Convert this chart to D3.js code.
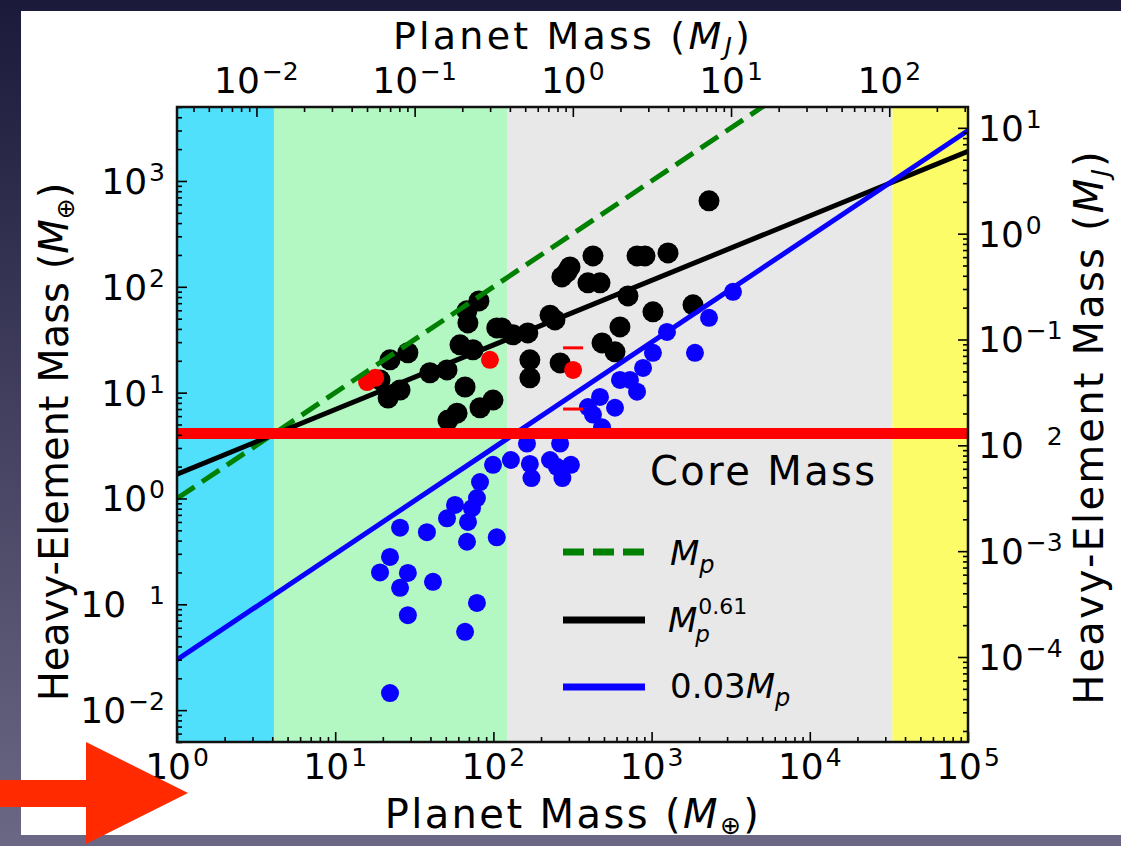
<!DOCTYPE html>
<html>
<head>
<meta charset="utf-8">
<script src="https://cdn.jsdelivr.net/npm/d3@7"></script>
<style>
html, body { margin: 0; padding: 0; }
body { width: 1121px; height: 846px; overflow: hidden; }
svg text { font-family: "DejaVu Sans", sans-serif; fill: #000; }
</style>
</head>
<body>
<svg id="fig" width="1121" height="846"></svg>
<script>
// 1 Jupiter mass in Earth masses (twin axes)
var EARTH_PER_JUP = 317.8;

// shaded mass regimes (Earth masses)
var regionEdges = [1, 4.1, 122, 33300, 1e5];
var regionColors = ["#50e0fc", "#b3f7c3", "#e8e8e8", "#fcfc68"];

// black points: planet mass, heavy-element mass (Earth masses)
var blackMass = [2306, 305, 271, 426, 396, 472, 809, 908, 1270, 709, 228, 245, 165, 133, 113,
  1020, 1827, 631, 486, 587, 170, 170, 264, 81, 68, 69, 105, 292, 61.5, 74.3, 22.2, 28.8,
  39.7, 50.9, 66.2, 21.6, 25.7, 82.3, 99.4, 51.6, 58.9, 19.2];
var blackZ = [649, 154, 124, 196, 109, 109, 196, 196, 209, 82, 54, 48.7, 36.7, 35.2, 40.9,
  58, 67.5, 41.8, 29.5, 24.3, 20.4, 13.8, 19.1, 73.6, 59.3, 45.6, 40.9, 138, 28.3, 25.4, 20.4, 23.8,
  15.4, 16.4, 11.3, 8.9, 10.6, 7.2, 8.5, 5.5, 6.4, 13.2];

// blue points
var blueMass = [3270, 2306, 1880, 1251, 1020, 883, 631, 730, 809, 472, 396, 426, 587, 486,
  163, 264, 129, 170, 228, 252, 309, 174, 273, 99.4, 82.3, 78.7, 57.2, 50.9, 69.1, 73.2,
  68.1, 105, 25.7, 38.0, 22.2, 19.2, 28.8, 25.7, 41.5, 78.7, 28.8, 66.2, 22.2];
var blueZ = [89.6, 50.9, 23.8, 37.5, 23.8, 17.1, 13.2, 13.2, 10.2, 9.1, 7.3, 6.2, 7.2, 4.7,
  3.3, 3.3, 2.31, 2.12, 2.31, 1.99, 2.08, 1.56, 1.56, 2.08, 1.43, 1.01, 0.87, 0.65, 0.60, 0.81,
  0.39, 0.43, 0.53, 0.48, 0.28, 0.20, 0.198, 0.143, 0.163, 0.103, 0.079, 0.055, 0.0145];

// red points with error caps
var redMass = [15.9, 17.9, 95.1, 319];
var redZ = [12.6, 13.8, 20.4, 16.4];
var redLow = [null, null, null, 7.0];
var redHigh = [null, null, null, 26.5];

// relations
var fitCoef = 1.7, fitExp = 0.61;
var coreFrac = 0.03;
var coreMass = 4.1;

// tick labels (exponents); the reference lost the minus on two of them
var bottomExp = ["0", "1", "2", "3", "4", "5"];
var topExp = ["−2", "−1", "0", "1", "2"];
var leftExp = ["−2", "−1", "0", "1", "2", "3"];
var leftLostMinus = [false, true, false, false, false, false];
var rightExp = ["−4", "−3", "−2", "−1", "0", "1"];
var rightLostMinus = [false, false, true, false, false, false];

var W = 1121, H = 846;
var plot = {left: 177, right: 968, top: 107, bottom: 742};

var svg = d3.select("#fig");
var defs = svg.append("defs");
var grad = defs.append("linearGradient").attr("id", "bg")
  .attr("x1", 0).attr("y1", 0).attr("x2", 0).attr("y2", 1);
grad.append("stop").attr("offset", 0).attr("stop-color", "#1c1a3a");
grad.append("stop").attr("offset", 1).attr("stop-color", "#6a6884");
defs.append("clipPath").attr("id", "clip").append("rect")
  .attr("x", plot.left).attr("y", plot.top)
  .attr("width", plot.right - plot.left).attr("height", plot.bottom - plot.top);

svg.append("rect").attr("width", W).attr("height", H).attr("fill", "url(#bg)");
svg.append("rect").attr("x", 21).attr("y", 11).attr("width", 1100).attr("height", 824).attr("fill", "#fff");

var x = d3.scaleLog().domain([1, 1e5]).range([plot.left, plot.right]);
var xJ = d3.scaleLog().domain(x.domain().map(function(d){ return d / EARTH_PER_JUP; })).range(x.range());
var y = d3.scaleLog().domain([5e-3, 5e3]).range([plot.bottom, plot.top]);
var yJ = d3.scaleLog().domain(y.domain().map(function(d){ return d / EARTH_PER_JUP; })).range(y.range());

var g = svg.append("g").attr("clip-path", "url(#clip)");

// regions
g.selectAll("rect.region").data(regionColors).join("rect")
  .attr("class", "region")
  .attr("x", function(d, i){ return x(regionEdges[i]); })
  .attr("width", function(d, i){ return x(regionEdges[i + 1]) - x(regionEdges[i]); })
  .attr("y", plot.top).attr("height", plot.bottom - plot.top)
  .attr("fill", function(d){ return d; });

// ticks
function majors(scale) {
  var dom = scale.domain(), out = [];
  for (var e = Math.floor(Math.log10(dom[0])); e <= Math.ceil(Math.log10(dom[1])); e++) {
    var v = Math.pow(10, e);
    if (v >= dom[0] * 0.999 && v <= dom[1] * 1.001) out.push(v);
  }
  return out;
}
function minors(scale) {
  var dom = scale.domain(), out = [];
  for (var e = Math.floor(Math.log10(dom[0])); e <= Math.ceil(Math.log10(dom[1])); e++) {
    for (var k = 2; k < 10; k++) {
      var v = k * Math.pow(10, e);
      if (v >= dom[0] && v <= dom[1]) out.push(v);
    }
  }
  return out;
}
function tickAxis(axisFn, scale, tr) {
  [[majors(scale), -10], [minors(scale), -5]].forEach(function(p){
    svg.append("g").attr("transform", tr)
      .call(axisFn(scale).tickValues(p[0]).tickSize(p[1]).tickSizeOuter(0).tickFormat(""))
      .call(function(a){ a.select(".domain").remove(); a.selectAll("text").remove(); })
      .selectAll("line").attr("stroke", "#000").attr("stroke-width", 1.6);
  });
}
tickAxis(d3.axisBottom, x, "translate(0," + plot.bottom + ")");
tickAxis(d3.axisTop, xJ, "translate(0," + plot.top + ")");
tickAxis(d3.axisLeft, y, "translate(" + plot.left + ",0)");
tickAxis(d3.axisRight, yJ, "translate(" + plot.right + ",0)");

// scatter
function scatter(xs, ys, color, r) {
  g.append("g").selectAll("circle").data(xs).join("circle")
    .attr("cx", function(d){ return x(d); })
    .attr("cy", function(d, i){ return y(ys[i]); })
    .attr("r", r).attr("fill", color);
}
scatter(blackMass, blackZ, "#000", 10.5);
scatter(blueMass, blueZ, "#0a00ff", 9);
scatter(redMass, redZ, "#ff0000", 9);

// error caps on red points
redMass.forEach(function(m, i){
  [redLow[i], redHigh[i]].forEach(function(v){
    if (v == null) return;
    g.append("line").attr("x1", x(m) - 10).attr("x2", x(m) + 10)
      .attr("y1", y(v)).attr("y2", y(v))
      .attr("stroke", "#ff0000").attr("stroke-width", 3);
  });
});

// relation lines
var line = d3.line().x(function(d){ return x(d[0]); }).y(function(d){ return y(d[1]); });
var ends = x.domain();
g.append("path").datum(ends.map(function(m){ return [m, m]; }))
  .attr("d", line).attr("fill", "none").attr("stroke", "#008000")
  .attr("stroke-width", 5).attr("stroke-dasharray", "21,9");
g.append("path").datum(ends.map(function(m){ return [m, fitCoef * Math.pow(m, fitExp)]; }))
  .attr("d", line).attr("fill", "none").attr("stroke", "#000").attr("stroke-width", 5);
g.append("path").datum(ends.map(function(m){ return [m, coreFrac * m]; }))
  .attr("d", line).attr("fill", "none").attr("stroke", "#0a00ff").attr("stroke-width", 5);

// core mass line
g.append("line").attr("x1", x(ends[0])).attr("x2", x(ends[1]))
  .attr("y1", y(coreMass)).attr("y2", y(coreMass))
  .attr("stroke", "#ff0000").attr("stroke-width", 11);

// frame
svg.append("rect").attr("x", plot.left).attr("y", plot.top)
  .attr("width", plot.right - plot.left).attr("height", plot.bottom - plot.top)
  .attr("fill", "none").attr("stroke", "#111").attr("stroke-width", 2.5);

// tick labels
function powLabel(px, py, exp, anchor, lost) {
  var t = svg.append("text").attr("x", px).attr("y", py).attr("text-anchor", anchor);
  t.append("tspan").attr("font-size", 36).text("10");
  var s = t.append("tspan").attr("font-size", 25).attr("dx", 2).attr("dy", -13);
  if (lost) {
    s.append("tspan").attr("fill-opacity", 0).text(exp.charAt(0));
    t.append("tspan").attr("font-size", 25).text(exp.slice(1));
  } else {
    s.text(exp);
  }
}
majors(x).forEach(function(v, i){ powLabel(x(v), 779, bottomExp[i], "middle", false); });
majors(xJ).forEach(function(v, i){ powLabel(xJ(v), 93, topExp[i], "middle", false); });
majors(y).forEach(function(v, i){ powLabel(plot.left - 12, y(v) + 13, leftExp[i], "end", leftLostMinus[i]); });
majors(yJ).forEach(function(v, i){ powLabel(plot.right + 10, yJ(v) + 13, rightExp[i], "start", rightLostMinus[i]); });

// axis titles
function title(t, size, main, sym, symItalic, spacing) {
  t.attr("font-size", size).attr("text-anchor", "middle").attr("letter-spacing", spacing);
  t.append("tspan").text(main + " (");
  t.append("tspan").attr("font-style", "italic").text("M");
  t.append("tspan").attr("font-size", 25).attr("dy", 6)
    .attr("font-style", symItalic ? "italic" : "normal").text(sym);
  t.append("tspan").attr("dy", -6).text(")");
  return t;
}
title(svg.append("text").attr("x", 573).attr("y", 49), 38, "Planet Mass", "J", true, 3.2);
title(svg.append("text").attr("x", 573).attr("y", 828), 40, "Planet Mass", "⊕", false, 2.4);
title(svg.append("text").attr("transform", "translate(68,442) rotate(-90)"), 40, "Heavy-Element Mass", "⊕", false, 0);
title(svg.append("text").attr("transform", "translate(1103,427) rotate(-90)"), 40, "Heavy-Element Mass", "J", true, 2.2);

// core mass annotation
svg.append("text").attr("x", 650).attr("y", 485).attr("font-size", 40)
  .attr("letter-spacing", 2.4).text("Core Mass");

// legend
var legendY = [552, 620, 687];
var legendColors = ["#008000", "#000", "#0a00ff"];
var legendDash = ["21,9", null, null];
legendY.forEach(function(ly, i){
  svg.append("line").attr("x1", 563).attr("x2", 645).attr("y1", ly).attr("y2", ly)
    .attr("stroke", legendColors[i]).attr("stroke-width", 7)
    .attr("stroke-dasharray", legendDash[i]);
});
var l1 = svg.append("text").attr("x", 670).attr("y", legendY[0] + 13).attr("font-size", 34);
l1.append("tspan").attr("font-style", "italic").text("M");
l1.append("tspan").attr("font-style", "italic").attr("font-size", 24).attr("dy", 8).text("p");

var mText = svg.append("text").attr("x", 668).attr("y", legendY[1] + 12)
  .attr("font-size", 34).attr("font-style", "italic").text("M");
var mw = mText.node().getComputedTextLength();
svg.append("text").attr("x", 668 + mw + 1).attr("y", legendY[1] - 6)
  .attr("font-size", 22).text("0.61");
svg.append("text").attr("x", 668 + mw - 2).attr("y", legendY[1] + 22)
  .attr("font-size", 23).attr("font-style", "italic").text("p");

var l3 = svg.append("text").attr("x", 670).attr("y", legendY[2] + 11).attr("font-size", 34);
l3.append("tspan").text("0.03");
l3.append("tspan").attr("font-style", "italic").text("M");
l3.append("tspan").attr("font-style", "italic").attr("font-size", 24).attr("dy", 8).text("p");

// red arrow
svg.append("polygon")
  .attr("points", [[0, 780], [86, 780], [86, 742], [188, 793], [86, 844], [86, 807], [0, 807]].join(" "))
  .attr("fill", "#ff2a00");
</script>
</body>
</html>
